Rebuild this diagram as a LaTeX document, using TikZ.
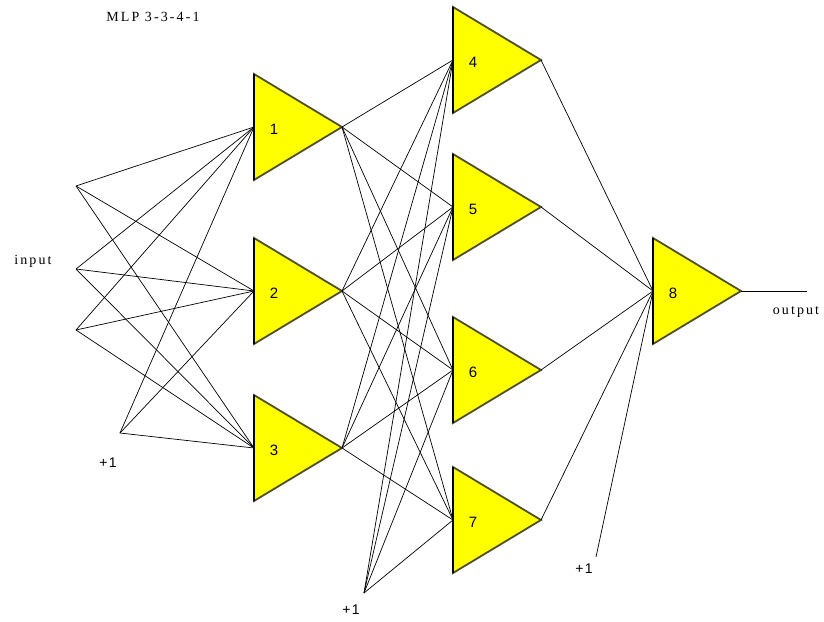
\documentclass[tikz,border=0pt]{standalone}
\usepackage{fontspec}
\setmainfont{Liberation Serif}
\newfontfamily\numfont{Liberation Sans}
\newfontfamily\spacedfont[LetterSpace=15]{Liberation Serif}
\usetikzlibrary{shapes.geometric}
\definecolor{neuronyellow}{RGB}{255,255,0}
\definecolor{edgeolive}{RGB}{80,80,40}

\begin{document}
\begin{tikzpicture}[x=1pt,y=-1pt,
  neuron/.style={shape=isosceles triangle, isosceles triangle stretches,
    minimum width=106pt, minimum height=88pt, inner sep=0pt,
    outer sep=0pt, anchor=lower side, fill=neuronyellow, draw=edgeolive,
    line width=1.8pt},
  base/.style={line width=2.2pt, black},
  link/.style={line width=0.7pt, black},
  num/.style={font=\numfont\fontsize{15}{15}\selectfont, inner sep=0pt},
  tag/.style={font=\spacedfont\fontsize{14}{14}\selectfont},
  bias/.style={font=\numfont\fontsize{14}{14}\selectfont}]
  \useasboundingbox (0,0) rectangle (824,621);

  % neurons
  \node[neuron] (n1) at (254,127) {};
  \node[neuron] (n2) at (254,291) {};
  \node[neuron] (n3) at (254,448) {};
  \node[neuron] (n4) at (453,60) {};
  \node[neuron] (n5) at (453,207) {};
  \node[neuron] (n6) at (453,370) {};
  \node[neuron] (n7) at (453,520) {};
  \node[neuron] (n8) at (653,291) {};
  \foreach \k in {1,...,8} {
    \draw[base] (n\k.left corner) -- (n\k.right corner);
    \node[num] (k\k) at ([shift={(20,2)}]n\k.lower side) {\k};
  }

  % inputs and bias points
  \coordinate (in1) at (76,186);
  \coordinate (in2) at (76,269);
  \coordinate (in3) at (76,330);
  \coordinate (b1) at (120,433);
  \coordinate (b2) at (364,593);
  \coordinate (b3) at (596,557);
  \coordinate (out) at (807,291);

  % labels
  \node[tag] (title) at (153,17) {MLP 3-3-4-1};
  \node[tag] (inlbl) at (33,261) {input};
  \node[tag] (outlbl) at (796,312) {output};
  \node[bias] (b1lbl) at (108,463) {+\kern1.5pt1};
  \node[bias] (b2lbl) at (351,610) {+\kern1.5pt1};
  \node[bias] (b3lbl) at (584,569) {+\kern1.5pt1};

  % connections
  \foreach \s in {in1,in2,in3,b1}
    \foreach \t in {n1,n2,n3}
      \draw[link] (\s) -- (\t.lower side);
  \foreach \s in {n1.apex,n2.apex,n3.apex,b2}
    \foreach \t in {n4,n5,n6,n7}
      \draw[link] (\s) -- (\t.lower side);
  \foreach \s in {n4.apex,n5.apex,n6.apex,n7.apex,b3}
    \draw[link] (\s) -- (n8.lower side);
  \draw[link] (n8.apex) -- (out);
\end{tikzpicture}
\end{document}
